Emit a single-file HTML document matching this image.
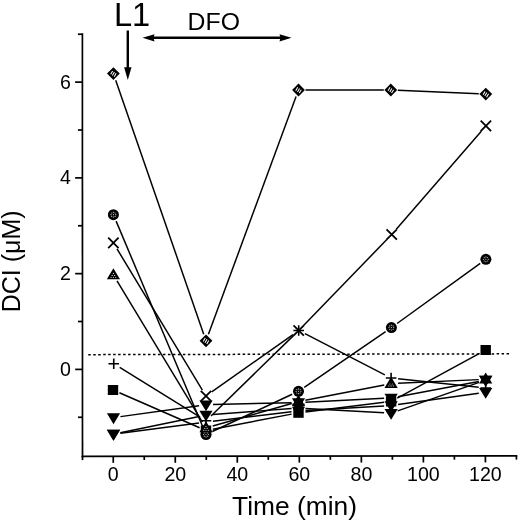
<!DOCTYPE html>
<html><head><meta charset="utf-8"><title>chart</title>
<style>html,body{margin:0;padding:0;background:#fff}body{width:520px;height:522px;overflow:hidden;font-family:"Liberation Sans",sans-serif}</style></head>
<body>
<svg width="520" height="522" viewBox="0 0 520 522" style="display:block;filter:grayscale(1)">
<rect width="520" height="522" fill="#fff"/>
<g stroke="#000" stroke-width="1.7" fill="none" stroke-linecap="butt">
<path d="M82.40 33.25L82.5 457.15000000000003"/>
<path d="M81.65 456.3L517.3 455.80"/>
<path d="M77.99 417.28H82.49"/>
<path d="M75.18 369.40H82.48"/>
<path d="M77.97 321.52H82.47"/>
<path d="M75.16 273.64H82.46"/>
<path d="M77.95 225.76H82.45"/>
<path d="M75.13 177.88H82.43"/>
<path d="M77.92 130.00H82.42"/>
<path d="M75.11 82.12H82.41"/>
<path d="M77.90 34.24H82.40"/>
<path d="M82.50 456.30V460.10"/>
<path d="M113.25 456.26V462.86"/>
<path d="M144.26 456.23V460.03"/>
<path d="M175.28 456.19V462.79"/>
<path d="M206.29 456.16V459.96"/>
<path d="M237.30 456.12V462.72"/>
<path d="M268.31 456.09V459.89"/>
<path d="M299.33 456.05V462.65"/>
<path d="M330.34 456.02V459.82"/>
<path d="M361.35 455.98V462.58"/>
<path d="M392.37 455.94V459.74"/>
<path d="M423.38 455.91V462.51"/>
<path d="M454.39 455.87V459.67"/>
<path d="M485.41 455.84V462.44"/>
<path d="M516.42 455.80V459.60"/>
</g>
<path d="M88.25 354.65L509.4 353.85" stroke="#000" stroke-width="1.5" stroke-dasharray="2.5 2.48" fill="none"/>
<g stroke="#000" stroke-width="1.48" fill="none">
<path d="M115.69 80.21L203.71 334.19"/>
<path d="M208.42 334.23L296.08 96.57"/>
<path d="M305.50 90.00L383.80 90.00"/>
<path d="M397.79 90.30L478.81 93.80"/>
<path d="M117.02 248.89L202.38 390.01"/>
<path d="M211.72 391.96L292.98 334.54"/>
<path d="M303.57 325.47L386.83 239.53"/>
<path d="M396.29 229.21L481.31 131.19"/>
<path d="M116.12 221.15L203.28 428.05"/>
<path d="M212.34 431.54L292.16 394.26"/>
<path d="M304.27 387.34L385.63 331.56"/>
<path d="M397.07 323.50L480.23 263.40"/>
<path d="M117.02 280.99L202.38 422.01"/>
<path d="M212.73 426.08L291.77 403.52"/>
<path d="M305.37 400.26L384.23 384.94"/>
<path d="M398.09 383.28L478.71 379.62"/>
<path d="M119.70 367.43L200.05 417.12"/>
<path d="M211.01 415.92L293.69 335.38"/>
<path d="M304.93 333.70L384.87 374.80"/>
<path d="M398.06 378.74L478.74 387.26"/>
<path d="M119.42 392.79L199.58 427.71"/>
<path d="M212.88 429.18L291.62 414.12"/>
<path d="M305.45 411.95L384.15 402.35"/>
<path d="M397.25 398.15L479.55 353.35"/>
<path d="M120.43 416.63L199.07 405.67"/>
<path d="M213.00 404.53L291.50 402.67"/>
<path d="M305.49 402.16L384.11 398.34"/>
<path d="M397.98 396.70L478.82 381.40"/>
<path d="M120.36 432.68L199.14 416.42"/>
<path d="M212.98 414.47L291.52 408.53"/>
<path d="M305.49 408.39L384.11 412.81"/>
<path d="M397.71 410.89L479.09 382.41"/>
<path d="M120.44 433.19L199.06 422.91"/>
<path d="M212.95 421.17L291.55 411.83"/>
<path d="M305.49 410.58L384.11 405.92"/>
<path d="M398.03 404.53L478.77 393.17"/>
</g>
<rect x="107.8" y="385" width="10.4" height="10" fill="#000"/>
<rect x="200.8" y="425.5" width="10.4" height="10" fill="#000"/>
<rect x="293.3" y="407.8" width="10.4" height="10" fill="#000"/>
<rect x="385.90000000000003" y="396.5" width="10.4" height="10" fill="#000"/>
<rect x="480.5" y="345" width="10.4" height="10" fill="#000"/>
<circle cx="113.4" cy="214.7" r="5.5" fill="#000"/><g fill="#fff" opacity="0.75"><circle cx="111.7" cy="213.0" r="0.62"/><circle cx="115.10000000000001" cy="213.0" r="0.62"/><circle cx="111.7" cy="216.39999999999998" r="0.62"/><circle cx="115.10000000000001" cy="216.39999999999998" r="0.62"/><circle cx="113.4" cy="214.7" r="0.62"/><circle cx="113.4" cy="212.29999999999998" r="0.62"/><circle cx="113.4" cy="217.1" r="0.62"/><circle cx="111.0" cy="214.7" r="0.62"/><circle cx="115.80000000000001" cy="214.7" r="0.62"/></g>
<circle cx="206" cy="434.5" r="5.5" fill="#000"/><g fill="#fff" opacity="0.75"><circle cx="204.3" cy="432.8" r="0.62"/><circle cx="207.7" cy="432.8" r="0.62"/><circle cx="204.3" cy="436.2" r="0.62"/><circle cx="207.7" cy="436.2" r="0.62"/><circle cx="206" cy="434.5" r="0.62"/><circle cx="206" cy="432.1" r="0.62"/><circle cx="206" cy="436.9" r="0.62"/><circle cx="203.6" cy="434.5" r="0.62"/><circle cx="208.4" cy="434.5" r="0.62"/></g>
<circle cx="298.5" cy="391.3" r="5.5" fill="#000"/><g fill="#fff" opacity="0.75"><circle cx="296.8" cy="389.6" r="0.62"/><circle cx="300.2" cy="389.6" r="0.62"/><circle cx="296.8" cy="393.0" r="0.62"/><circle cx="300.2" cy="393.0" r="0.62"/><circle cx="298.5" cy="391.3" r="0.62"/><circle cx="298.5" cy="388.90000000000003" r="0.62"/><circle cx="298.5" cy="393.7" r="0.62"/><circle cx="296.1" cy="391.3" r="0.62"/><circle cx="300.9" cy="391.3" r="0.62"/></g>
<circle cx="391.4" cy="327.6" r="5.5" fill="#000"/><g fill="#fff" opacity="0.75"><circle cx="389.7" cy="325.90000000000003" r="0.62"/><circle cx="393.09999999999997" cy="325.90000000000003" r="0.62"/><circle cx="389.7" cy="329.3" r="0.62"/><circle cx="393.09999999999997" cy="329.3" r="0.62"/><circle cx="391.4" cy="327.6" r="0.62"/><circle cx="391.4" cy="325.20000000000005" r="0.62"/><circle cx="391.4" cy="330.0" r="0.62"/><circle cx="389.0" cy="327.6" r="0.62"/><circle cx="393.79999999999995" cy="327.6" r="0.62"/></g>
<circle cx="485.9" cy="259.3" r="5.5" fill="#000"/><g fill="#fff" opacity="0.75"><circle cx="484.2" cy="257.6" r="0.62"/><circle cx="487.59999999999997" cy="257.6" r="0.62"/><circle cx="484.2" cy="261.0" r="0.62"/><circle cx="487.59999999999997" cy="261.0" r="0.62"/><circle cx="485.9" cy="259.3" r="0.62"/><circle cx="485.9" cy="256.90000000000003" r="0.62"/><circle cx="485.9" cy="261.7" r="0.62"/><circle cx="483.5" cy="259.3" r="0.62"/><circle cx="488.29999999999995" cy="259.3" r="0.62"/></g>
<path d="M113.4 268.2L120.0 279.3L106.80000000000001 279.3Z" fill="#000"/><g fill="#fff" opacity="0.8"><circle cx="113.4" cy="273.4" r="0.62"/><circle cx="112.2" cy="275.4" r="0.62"/><circle cx="114.60000000000001" cy="275.4" r="0.62"/><circle cx="111.10000000000001" cy="277.3" r="0.62"/><circle cx="113.4" cy="277.3" r="0.62"/><circle cx="115.7" cy="277.3" r="0.62"/></g>
<path d="M206 421.2L212.6 432.3L199.4 432.3Z" fill="#000"/><g fill="#fff" opacity="0.8"><circle cx="206" cy="426.4" r="0.62"/><circle cx="204.8" cy="428.4" r="0.62"/><circle cx="207.2" cy="428.4" r="0.62"/><circle cx="203.7" cy="430.3" r="0.62"/><circle cx="206" cy="430.3" r="0.62"/><circle cx="208.3" cy="430.3" r="0.62"/></g>
<path d="M298.5 394.8L305.1 405.90000000000003L291.9 405.90000000000003Z" fill="#000"/><g fill="#fff" opacity="0.8"><circle cx="298.5" cy="400.0" r="0.62"/><circle cx="297.3" cy="402.0" r="0.62"/><circle cx="299.7" cy="402.0" r="0.62"/><circle cx="296.2" cy="403.90000000000003" r="0.62"/><circle cx="298.5" cy="403.90000000000003" r="0.62"/><circle cx="300.8" cy="403.90000000000003" r="0.62"/></g>
<path d="M391.1 376.8L397.70000000000005 387.90000000000003L384.5 387.90000000000003Z" fill="#000"/><g fill="#fff" opacity="0.8"><circle cx="391.1" cy="382.0" r="0.62"/><circle cx="389.90000000000003" cy="384.0" r="0.62"/><circle cx="392.3" cy="384.0" r="0.62"/><circle cx="388.8" cy="385.90000000000003" r="0.62"/><circle cx="391.1" cy="385.90000000000003" r="0.62"/><circle cx="393.40000000000003" cy="385.90000000000003" r="0.62"/></g>
<path d="M485.7 372.5L492.3 383.6L479.09999999999997 383.6Z" fill="#000"/><g fill="#fff" opacity="0.8"><circle cx="485.7" cy="377.7" r="0.62"/><circle cx="484.5" cy="379.7" r="0.62"/><circle cx="486.9" cy="379.7" r="0.62"/><circle cx="483.4" cy="381.6" r="0.62"/><circle cx="485.7" cy="381.6" r="0.62"/><circle cx="488.0" cy="381.6" r="0.62"/></g>
<path d="M113.5 424.20000000000005L120.1 413.3L106.9 413.3Z" fill="#000"/>
<path d="M206 411.3L212.6 400.4L199.4 400.4Z" fill="#000"/>
<path d="M298.5 409.1L305.1 398.2L291.9 398.2Z" fill="#000"/>
<path d="M391.1 404.6L397.70000000000005 393.7L384.5 393.7Z" fill="#000"/>
<path d="M485.7 386.70000000000005L492.3 375.8L479.09999999999997 375.8Z" fill="#000"/>
<path d="M113.5 440.70000000000005L120.1 429.8L106.9 429.8Z" fill="#000"/>
<path d="M206 421.6L212.6 410.7L199.4 410.7Z" fill="#000"/>
<path d="M298.5 414.6L305.1 403.7L291.9 403.7Z" fill="#000"/>
<path d="M391.1 419.8L397.70000000000005 408.9L384.5 408.9Z" fill="#000"/>
<path d="M485.7 386.70000000000005L492.3 375.8L479.09999999999997 375.8Z" fill="#000"/>
<path d="M113.5 440.70000000000005L120.1 429.8L106.9 429.8Z" fill="#000"/>
<path d="M298.5 417.6L305.1 406.7L291.9 406.7Z" fill="#000"/>
<path d="M391.1 412.1L397.70000000000005 401.2L384.5 401.2Z" fill="#000"/>
<path d="M485.7 398.8L492.3 387.9L479.09999999999997 387.9Z" fill="#000"/>
<path d="M113.4 67.19999999999999L119.80000000000001 73.6L113.4 80.0L107.0 73.6Z" fill="#000"/><g stroke="#fff" stroke-width="1.05"><path d="M110.65 74.30L112.65 70.90"/><path d="M112.40 75.50L114.40 72.10"/><path d="M114.15 76.70L116.15 73.30"/></g>
<path d="M206 334.40000000000003L212.4 340.8L206 347.2L199.6 340.8Z" fill="#000"/><g stroke="#fff" stroke-width="1.05"><path d="M203.25 341.50L205.25 338.10"/><path d="M205.00 342.70L207.00 339.30"/><path d="M206.75 343.90L208.75 340.50"/></g>
<path d="M298.5 83.6L304.9 90L298.5 96.4L292.1 90Z" fill="#000"/><g stroke="#fff" stroke-width="1.05"><path d="M295.75 90.70L297.75 87.30"/><path d="M297.50 91.90L299.50 88.50"/><path d="M299.25 93.10L301.25 89.70"/></g>
<path d="M390.8 83.6L397.2 90L390.8 96.4L384.40000000000003 90Z" fill="#000"/><g stroke="#fff" stroke-width="1.05"><path d="M388.05 90.70L390.05 87.30"/><path d="M389.80 91.90L391.80 88.50"/><path d="M391.55 93.10L393.55 89.70"/></g>
<path d="M485.8 87.69999999999999L492.2 94.1L485.8 100.5L479.40000000000003 94.1Z" fill="#000"/><g stroke="#fff" stroke-width="1.05"><path d="M483.05 94.80L485.05 91.40"/><path d="M484.80 96.00L486.80 92.60"/><path d="M486.55 97.20L488.55 93.80"/></g>
<path d="M108.45 363.75H119.05M113.75 358.45V369.05" stroke="#000" stroke-width="1.6" fill="none"/>
<path d="M200.7 420.8H211.3M206 415.5V426.1" stroke="#000" stroke-width="1.6" fill="none"/>
<path d="M293.4 330.5H304.0M298.7 325.2V335.8" stroke="#000" stroke-width="1.6" fill="none"/>
<path d="M385.8 378H396.40000000000003M391.1 372.7V383.3" stroke="#000" stroke-width="1.6" fill="none"/>
<path d="M480.4 388H491.0M485.7 382.7V393.3" stroke="#000" stroke-width="1.6" fill="none"/>
<path d="M108.2 237.70000000000002L118.60000000000001 248.1M108.2 248.1L118.60000000000001 237.70000000000002" stroke="#000" stroke-width="1.8" fill="none"/>
<path d="M200.8 390.8L211.2 401.2M200.8 401.2L211.2 390.8" stroke="#000" stroke-width="1.8" fill="none"/>
<path d="M293.5 325.3L303.9 335.7M293.5 335.7L303.9 325.3" stroke="#000" stroke-width="1.8" fill="none"/>
<path d="M386.5 229.3L396.9 239.7M386.5 239.7L396.9 229.3" stroke="#000" stroke-width="1.8" fill="none"/>
<path d="M480.7 120.7L491.09999999999997 131.1M480.7 131.1L491.09999999999997 120.7" stroke="#000" stroke-width="1.8" fill="none"/>
<path d="M127.8 30.5V70" stroke="#000" stroke-width="2.4" fill="none"/>
<path d="M127.8 80L124.1 67.2H131.5Z" fill="#000"/>
<path d="M152 37.8H282" stroke="#000" stroke-width="2.4" fill="none"/>
<path d="M142.5 37.8L154.5 34.2L153.5 37.8L154.5 41.4Z" fill="#000"/>
<path d="M291.5 37.8L279.5 34.2L280.5 37.8L279.5 41.4Z" fill="#000"/>
<g font-family="'Liberation Sans', sans-serif" fill="#000">
<text x="114" y="26.2" font-size="32.6">L1</text>
<text x="187.6" y="29.6" font-size="24.8">DFO</text>
<text x="70.8" y="375.9" font-size="19.6" text-anchor="end">0</text>
<text x="70.8" y="280.1" font-size="19.6" text-anchor="end">2</text>
<text x="70.8" y="184.4" font-size="19.6" text-anchor="end">4</text>
<text x="70.8" y="88.6" font-size="19.6" text-anchor="end">6</text>
<text x="113.2" y="481.3" font-size="19.6" text-anchor="middle">0</text>
<text x="175.3" y="481.3" font-size="19.6" text-anchor="middle">20</text>
<text x="237.3" y="481.3" font-size="19.6" text-anchor="middle">40</text>
<text x="299.3" y="481.3" font-size="19.6" text-anchor="middle">60</text>
<text x="361.4" y="481.3" font-size="19.6" text-anchor="middle">80</text>
<text x="423.4" y="481.3" font-size="19.6" text-anchor="middle">100</text>
<text x="485.4" y="481.3" font-size="19.6" text-anchor="middle">120</text>
<text x="232" y="514.8" font-size="25" textLength="125" lengthAdjust="spacingAndGlyphs">Time (min)</text>
<text transform="translate(20.3 261.3) rotate(-90)" font-size="25" text-anchor="middle">DCI (μM)</text>
</g>
</svg>
</body></html>
